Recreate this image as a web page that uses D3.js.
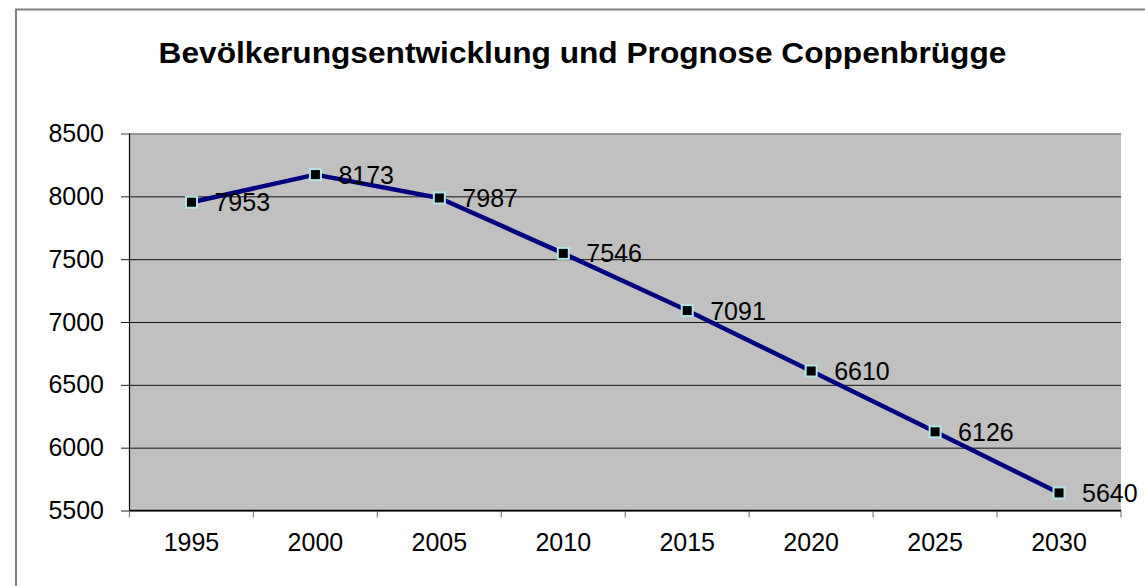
<!DOCTYPE html>
<html><head><meta charset="utf-8">
<script src="https://cdn.jsdelivr.net/npm/d3@7"></script>
<style>body{margin:0;background:#fff;}svg{display:block;font-family:"Liberation Sans",Arial,sans-serif;}</style>
</head><body>
<svg id="c" width="1145" height="586"></svg>
<script>
const years = ["1995","2000","2005","2010","2015","2020","2025","2030"];
const population = [7953, 8173, 7987, 7546, 7091, 6610, 6126, 5640];
const yTicks = [5500, 6000, 6500, 7000, 7500, 8000, 8500];
const title = "Bevölkerungsentwicklung und Prognose Coppenbrügge";

const svg = d3.select("#c");
const L = 129.5, R = 1121, T = 133.5, B = 510.5;

// outer chart border
svg.append("path").attr("d", "M16,590 L16,9.5 L1150,9.5")
  .attr("fill","none").attr("stroke","#808080").attr("stroke-width",2);

const tt = svg.append("text").attr("x", 0).attr("y", 0).attr("text-anchor","middle")
  .attr("font-size", 29.5).attr("font-weight","bold").attr("fill","#000").text(title);
const tw = tt.node().getComputedTextLength();
tt.attr("transform", `translate(582.5,63) scale(${848 / tw},1)`);

const x = d3.scaleBand().domain(years).range([L, R]).padding(0);
const y = d3.scaleLinear().domain([5500, 8500]).range([B, T]);

svg.append("rect").attr("x", L).attr("y", T).attr("width", R - L).attr("height", B - T).attr("fill", "#c0c0c0");

// gridlines + y ticks
const yAxis = d3.axisLeft(y).tickValues(yTicks).tickSize(-(R - L)).tickPadding(0).tickFormat(d => d);
const gy = svg.append("g").attr("transform", `translate(${L},0)`).call(yAxis);
gy.select(".domain").remove();
gy.selectAll(".tick line").attr("x1", -8.5).attr("stroke", d => d === 8500 ? "#808080" : "#000").attr("stroke-width", d => d === 8500 ? 1.5 : 0.9);
gy.selectAll(".tick text").attr("x", -25.5).attr("font-size", 25).attr("fill", "#000").attr("font-family", "Liberation Sans, Arial, sans-serif");

// y axis line
svg.append("line").attr("x1", L).attr("x2", L).attr("y1", T).attr("y2", B).attr("stroke", "#000").attr("stroke-width", 1.2);

// x axis
const bounds = years.map(d => x(d)).concat([R]);
svg.selectAll("line.xt").data(bounds).join("line").attr("class","xt")
  .attr("x1", d => d).attr("x2", d => d).attr("y1", B).attr("y2", B + 7)
  .attr("stroke", "#808080").attr("stroke-width", 1.2);
svg.append("line").attr("x1", L).attr("x2", R).attr("y1", B).attr("y2", B).attr("stroke", "#000").attr("stroke-width", 1.5);
svg.selectAll("text.xl").data(years).join("text").attr("class","xl")
  .attr("x", d => x(d) + x.bandwidth() / 2).attr("y", 551)
  .attr("text-anchor", "middle").attr("font-size", 25).attr("fill", "#000").text(d => d);

// line
const pts = years.map((d, i) => [x(d) + x.bandwidth() / 2, y(population[i])]);
svg.append("path").datum(pts).attr("d", d3.line())
  .attr("fill", "none").attr("stroke", "#000080").attr("stroke-width", 4.5).attr("stroke-linejoin", "round");

svg.selectAll("rect.m").data(pts).join("rect").attr("class","m")
  .attr("x", d => d[0] - 5.5).attr("y", d => d[1] - 5.5).attr("width", 11).attr("height", 11)
  .attr("fill", "#000").attr("stroke", "#b4e4e4").attr("stroke-width", 2);

svg.selectAll("text.dl").data(pts).join("text").attr("class","dl")
  .attr("x", d => d[0] + 23).attr("y", d => d[1]).attr("dy", "0.36em")
  .attr("font-size", 25).attr("fill", "#000").text((d, i) => population[i]);
</script>
</body></html>
